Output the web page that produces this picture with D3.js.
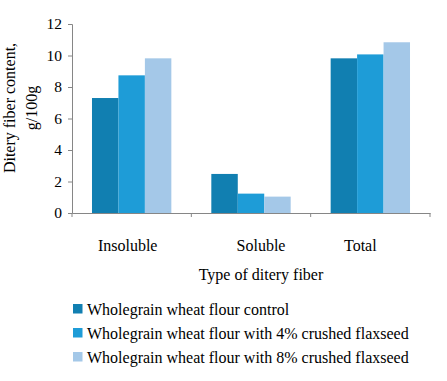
<!DOCTYPE html>
<html><head><meta charset="utf-8">
<script src="https://cdn.jsdelivr.net/npm/d3@7"></script>
<style>body{margin:0;background:#fff}svg{display:block}text{font-family:"Liberation Serif","Times New Roman",serif;fill:#000}</style>
</head><body>
<script>
const categories = ["Insoluble", "Soluble", "Total"];
const seriesNames = ["Wholegrain wheat flour control", "Wholegrain wheat flour with 4% crushed flaxseed", "Wholegrain wheat flour with 8% crushed flaxseed"];
const control = [7.3, 2.48, 9.82];
const flax4 = [8.74, 1.23, 10.07];
const flax8 = [9.82, 1.04, 10.84];
const yTicks = [0, 2, 4, 6, 8, 10, 12];
const colors = ["#117fb1", "#1e9cd7", "#a4c8e8"];
const labelNudge = [-4, 10, -10];

const series = [control, flax4, flax8];
const W = 447, H = 381;
const FS = 16;
const svg = d3.select("body").append("svg").attr("width", W).attr("height", H);
const m = {left: 72, right: 17, top: 24, bottom: 168};
const x = d3.scaleBand().domain(categories).range([m.left, W - m.right]).paddingInner(0).paddingOuter(0);
const y = d3.scaleLinear().domain([0, 12]).range([H - m.bottom, m.top]);
const groupW = x.bandwidth() * 0.665;
const xs = d3.scaleBand().domain(d3.range(series.length)).range([0, groupW]);

const g = svg.append("g");
series.forEach((vals, si) => {
  g.selectAll(null).data(vals).enter().append("rect")
    .attr("x", (d, i) => x(categories[i]) + (x.bandwidth() - groupW) / 2 + xs(si))
    .attr("width", xs.bandwidth())
    .attr("y", d => y(d))
    .attr("height", d => y(0) - y(d))
    .attr("fill", colors[si]);
});

// Y axis
const ya = svg.append("g").attr("transform", `translate(${m.left},0)`)
  .call(d3.axisLeft(y).tickValues(yTicks).tickSize(4).tickPadding(6).tickFormat(d3.format("d")));
ya.select(".domain").attr("stroke", "#868686");
ya.selectAll(".tick line").attr("stroke", "#868686");
ya.selectAll(".tick text").attr("font-size", 15.5).style("font-family", "Liberation Serif");

// X axis
const xa = svg.append("g").attr("transform", `translate(0,${y(0)})`)
  .call(d3.axisBottom(x).tickSize(0).tickPadding(0).tickFormat(""));
xa.select(".domain").attr("stroke", "#868686");
xa.selectAll(".tick").remove();
const bounds = categories.map(c => x(c)).concat([x(categories[categories.length - 1]) + x.bandwidth()]);
xa.selectAll("line.sep").data(bounds).enter().append("line")
  .attr("x1", d => d).attr("x2", d => d).attr("y1", 0).attr("y2", 4).attr("stroke", "#868686");

svg.selectAll("text.cat").data(categories).enter().append("text")
  .attr("x", (d, i) => x(d) + x.bandwidth() / 2 + labelNudge[i]).attr("y", 251)
  .attr("text-anchor", "middle").attr("font-size", FS).text(d => d);

svg.append("text").attr("x", 261).attr("y", 280).attr("text-anchor", "middle")
  .attr("font-size", FS).text("Type of ditery fiber");

const yt = svg.append("text").attr("transform", "translate(15,108) rotate(-90)").attr("text-anchor", "middle").attr("font-size", FS);
yt.append("tspan").attr("x", 0).attr("y", 0).text("Ditery fiber content,");
yt.append("tspan").attr("x", 0).attr("y", 22).text("g/100g");

const lg = svg.selectAll("g.leg").data(seriesNames).enter().append("g")
  .attr("transform", (d, i) => `translate(73,${309 + i * 24})`);
lg.append("rect").attr("x", 0).attr("y", -5).attr("width", 9.5).attr("height", 9.5).attr("fill", (d, i) => colors[i]);
lg.append("text").attr("x", 14).attr("y", 5.5).attr("font-size", FS).text(d => d);
</script>
</body></html>
